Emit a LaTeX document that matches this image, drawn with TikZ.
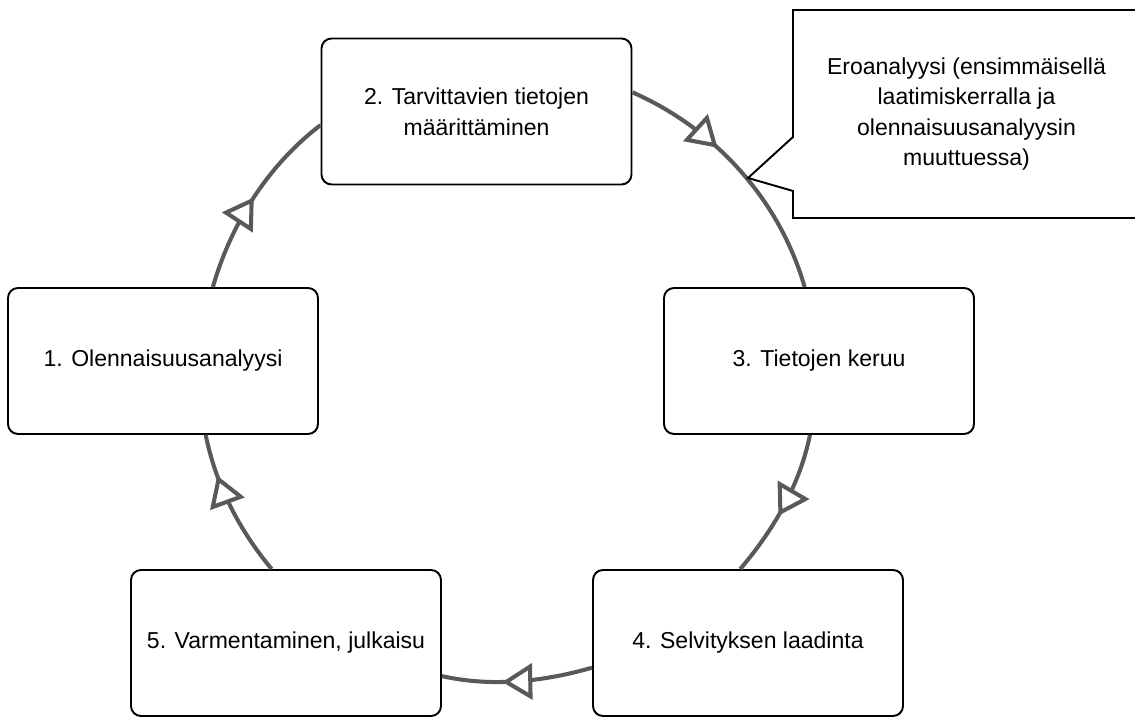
\documentclass[tikz,border=0pt]{standalone}
\usepackage{fontspec}
\setmainfont{Liberation Sans}
\usetikzlibrary{positioning, shapes.callouts, decorations.markings, arrows.meta}
\definecolor{ringgray}{RGB}{89,89,89}
\tikzset{phase/.style={rectangle, rounded corners=0.2cm, minimum width=6.2cm, minimum height=2.92cm, text centered, align=center, draw=black, line width=1.1pt, font=\fontsize{13.1}{17.6}\selectfont},
         note/.style={rectangle callout, minimum width=6.94cm, minimum height=4.16cm, align=center, draw=black, line width=1.1pt, callout pointer width=1.08cm, font=\fontsize{13.1}{17.4}\selectfont},
         ring/.style={draw=ringgray, line width=2.3pt},
         ringarrow/.style={postaction={decorate}, decoration={markings, mark=at position #1 with {\arrow{Triangle[fill=white, length=0.6cm, width=0.72cm]}}}}}

\begin{document}
\begin{tikzpicture}
        \useasboundingbox (0,0) rectangle (22.7,14.36);
        \node (b1)[phase] at (3.26,7.14) {1. Olennaisuusanalyysi};
        \node (b2)[phase] at (9.53,12.13) {2. Tarvittavien tietojen\\määrittäminen};
        \node (b3)[phase] at (16.38,7.14) {3. Tietojen keruu};
        \node (b4)[phase] at (14.96,1.5) {4. Selvityksen laadinta};
        \node (b5)[phase] at (5.72,1.5) {5. Varmentaminen, julkaisu};
        \draw [ring, ringarrow=0.5] (b1.56.1) to[out=74, in=217.3, looseness=0.87] (b2.185.9);
        \draw [ring, ringarrow=0.38] (b2.7.6) to[out=-23.7, in=106, looseness=0.89] (b3.101.2);
        \draw [ring, ringarrow=0.57] (b3.263.3) to[out=-101.4, in=49.6, looseness=0.87] (b4.96);
        \draw [ring, ringarrow=0.6] (b4.189.7) to[out=196, in=-12.5, looseness=0.87] (b5.348.7);
        \draw [ring, ringarrow=0.72] (b5.101.9) to[out=129.7, in=281.4, looseness=0.87] (b1.300.3);
        \coordinate (tip) at (14.96,10.8);
        \node (diff)[note, callout absolute pointer={(tip)}] at (19.33,12.08) {Eroanalyysi (ensimmäisellä\\laatimiskerralla ja\\olennaisuusanalyysin\\muuttuessa)};
    \end{tikzpicture}
\end{document}
